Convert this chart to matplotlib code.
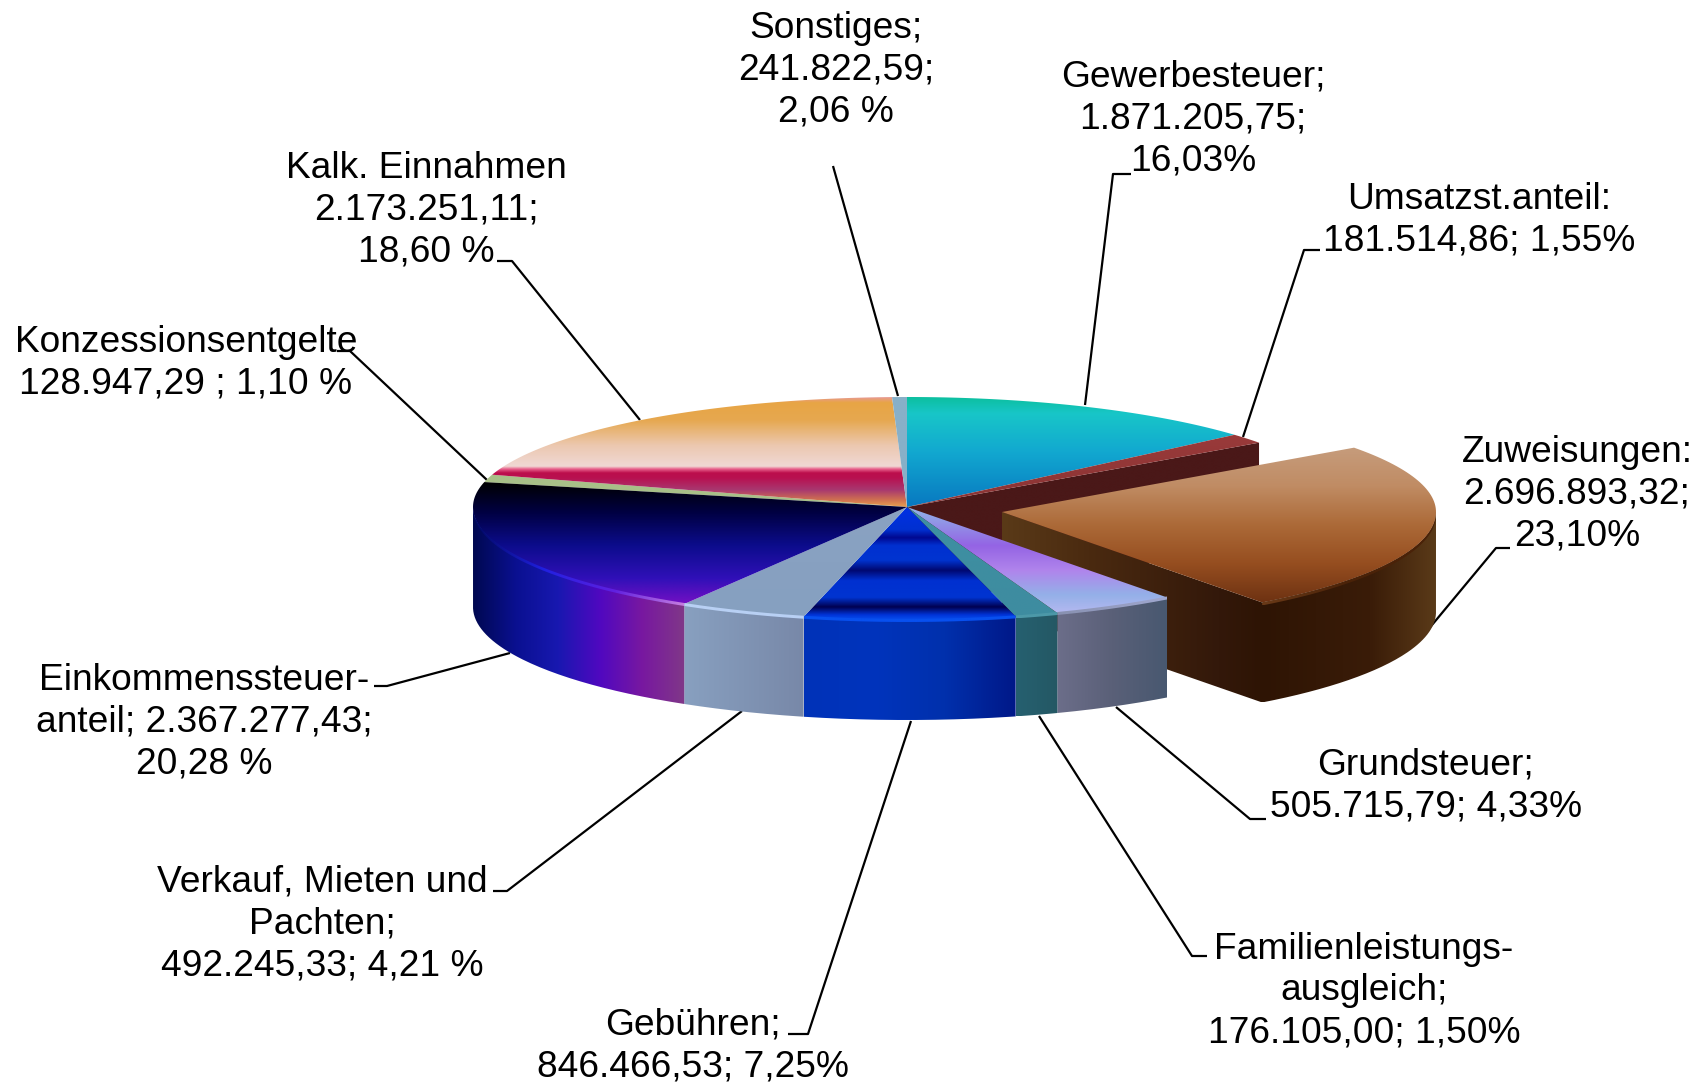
import numpy as np
import matplotlib
matplotlib.use("Agg")
import matplotlib.pyplot as plt
from matplotlib.colors import LinearSegmentedColormap
from matplotlib.patches import PathPatch
from matplotlib.path import Path

# clockwise from 12 o'clock. shares are the slice widths as drawn in the picture,
# they differ a bit from the percentages printed in the labels
names = ["Gewerbesteuer", "Umsatzst.anteil", "Zuweisungen", "Grundsteuer", "Familienleistungsausgleich",
         "Gebühren", "Verkauf", "Einkommenssteuer", "Konzessionsentgelte", "Kalk. Einnahmen", "Sonstiges"]
shares = [13.6, 1.45, 24.7, 4.6, 1.6, 7.85, 4.75, 20.05, 1.1, 19.7, 0.55]

labels = ["Gewerbesteuer;\n1.871.205,75;\n16,03%",
          "Umsatzst.anteil:\n181.514,86; 1,55%",
          "Zuweisungen:\n2.696.893,32;\n23,10%",
          "Grundsteuer;\n505.715,79; 4,33%",
          "Familienleistungs-\nausgleich;\n176.105,00; 1,50%",
          "Gebühren;\n846.466,53; 7,25%",
          "Verkauf, Mieten und\nPachten;\n492.245,33; 4,21 %",
          "Einkommenssteuer-\nanteil; 2.367.277,43;\n20,28 %",
          "Konzessionsentgelte\n128.947,29 ; 1,10 %",
          "Kalk. Einnahmen\n2.173.251,11;\n18,60 %",
          "Sonstiges;\n241.822,59;\n2,06 %"]
label_pos = [(1193, 119), (1479, 220), (1577, 494), (1426, 786), (1364, 991), (693, 1046),
             (322, 924), (204, 722), (186, 363), (426, 210), (836, 70)]
leaders = [[(1131, 174), (1113, 174), (1085, 405)],
           [(1320, 250), (1304, 250), (1243, 437)],
           [(1510, 548), (1496, 548), (1427, 631)],
           [(1266, 819), (1250, 819), (1116, 707)],
           [(1207, 956), (1192, 956), (1039, 716)],
           [(788, 1034), (808, 1034), (911, 721)],
           [(493, 891), (507, 891), (742, 711)],
           [(374, 686), (387, 686), (510, 653)],
           [(337, 351), (350, 351), (487, 480)],
           [(497, 261), (512, 261), (640, 420)],
           [(833, 166), (898, 396)]]

top_stops = [
    [(0, "#0cbf9f"), (0.15, "#18c6c8"), (0.5, "#12a8d0"), (1, "#0878c0")],
    ["#9a3a3a", "#8a3434"],
    ["#c69c7c", "#c08c64", "#ac6a38", "#964e20", "#6e3212"],
    [(0, "#90b8e8"), (0.37, "#9464e4"), (0.6, "#b084ec"), (0.83, "#94b0e8"), (1, "#b4b8f0")],
    ["#3e90a2", "#3e8ca0"],
    [(0, "#0030e0"), (0.05, "#0030e0"), (0.2, "#0030d0"), (0.27, "#000890"), (0.34, "#0030d0"),
     (0.47, "#0034d0"), (0.56, "#000870"), (0.65, "#0030d0"), (0.8, "#0034d0"), (0.885, "#000050"),
     (0.955, "#0034d8"), (1, "#0850f0")],
    ["#8aa2c2", "#86a0c0"],
    [(0, "#000000"), (0.24, "#000040"), (0.52, "#0c0c8c"), (0.79, "#3010b8"), (1, "#7410c4")],
    ["#a8c088", "#a8c088"],
    [(0, "#e89a95"), (0.05, "#e8a545"), (0.21, "#e6a850"), (0.44, "#ecc8b0"), (0.63, "#f0d8d4"),
     (0.655, "#e8608c"), (0.69, "#bc0e4c"), (0.735, "#b81050"), (0.845, "#a83870"),
     (0.935, "#d07050"), (1, "#e8a050")],
    ["#88b0c8", "#88b0c8"],
]
side_stops = {
    3: ["#6c6e8a", "#5a6078", "#485870"],
    4: ["#266070", "#245864"],
    5: ["#0032b8", "#0034bc", "#0030ac", "#001888"],
    6: ["#88a0c0", "#8094b4", "#7888a8"],
    7: ["#000850", "#0a1090", "#1818b0", "#5008c0", "#7818a0", "#803888"],
}
rim_stops = {
    3: ["#8890b0", "#a0a8d0"],
    4: ["#4c98a8", "#4c98a8"],
    5: ["#0850f0", "#0850f0"],
    6: ["#b8d0f4", "#b8d0f4"],
    7: ["#000860", "#2020e0", "#6020e0", "#c880e0"],
}
zuw_side = [(0, "#5a3a18"), (0.2, "#4a2a10"), (0.5, "#33180a"), (0.6, "#2e1404"), (0.85, "#3a1c08"), (1, "#5a3a18")]

CX, CY = 907, 507
RX = 434
RY_TOP, RY_BOTTOM = 110, 113
DEPTH = 100
EXPLODE = (95, 5)

bounds = np.radians(np.cumsum([0] + shares) / sum(shares) * 360)

fig = plt.figure(figsize=(17, 10.84), dpi=100)
ax = fig.add_axes([0, 0, 1, 1])
ax.axis("off")


def rim(t, off=(0, 0), drop=0):
    s, c = np.sin(t), np.cos(t)
    x = CX + off[0] + s * RX
    y = CY + off[1] + drop - c * np.where(c > 0, RY_TOP, RY_BOTTOM)
    return np.column_stack([x, y])


def arc(a, b, off=(0, 0), drop=0):
    return rim(np.linspace(a, b, 80), off, drop)


def grad_fill(verts, colors, vertical=True, z=2):
    verts = np.asarray(verts)
    x0, y0 = verts.min(axis=0)
    x1, y1 = verts.max(axis=0)
    cmap = LinearSegmentedColormap.from_list("g", colors, N=512)
    g = np.linspace(0, 1, 512)
    g = g[:, None] if vertical else g[None, :]
    im = ax.imshow(g, cmap=cmap, extent=(x0, x1, y1, y0), aspect="auto", zorder=z,
                   interpolation="bilinear")
    patch = PathPatch(Path(np.vstack([verts, verts[:1]])), transform=ax.transData, fc="none", ec="none")
    ax.add_patch(patch)
    im.set_clip_path(patch)


def wedge(i, off=(0, 0)):
    apex = np.array([[CX + off[0], CY + off[1]]])
    return np.vstack([apex, arc(bounds[i], bounds[i + 1], off)])


def side(a, b, off=(0, 0)):
    return np.vstack([arc(a, b, off), arc(b, a, off, DEPTH)])


for path in leaders:
    xs, ys = zip(*path)
    ax.plot(xs, ys, color="black", lw=1.6, zorder=1, solid_capstyle="butt")

# inner wall of the Umsatzst. slice, seen because Zuweisungen is pulled out
end = rim(bounds[2])[0]
wall = [(CX, CY), end, end + (0, DEPTH), (CX, CY + DEPTH)]
grad_fill(wall, ["#4a1818", "#4a1818"], z=2)

for i in [0, 1, 8, 9, 10]:
    grad_fill(wedge(i), top_stops[i], z=3)

# pulled out slice: walls first, then top
a, b = np.pi / 2, bounds[3]
walls = np.vstack([[[CX + EXPLODE[0], CY + EXPLODE[1]]], arc(b, a, EXPLODE), arc(a, b, EXPLODE, DEPTH),
                   [[CX + EXPLODE[0], CY + EXPLODE[1] + DEPTH]]])
grad_fill(walls, zuw_side, vertical=False, z=4)
grad_fill(wedge(2, EXPLODE), top_stops[2], z=5)
grad_fill(np.vstack([arc(a, b, EXPLODE), arc(b, a, EXPLODE, 3)]), ["#6a3a18", "#4a2208", "#4a2208"], vertical=False, z=6)

for i in [3, 4, 5, 6, 7]:
    lo, hi = bounds[i], min(bounds[i + 1], 1.5 * np.pi)
    grad_fill(side(lo, hi), side_stops[i], vertical=False, z=7)
for i in [3, 4, 5, 6, 7]:
    grad_fill(wedge(i), top_stops[i], z=8)
    lo, hi = bounds[i], min(bounds[i + 1], 1.5 * np.pi)
    grad_fill(np.vstack([arc(lo, hi, drop=-1), arc(hi, lo, drop=2)]), rim_stops[i], vertical=False, z=9)

for text, (x, y) in zip(labels, label_pos):
    ax.text(x, y, text, ha="center", va="center", fontsize=26.7, family="Liberation Sans",
            linespacing=1.25, color="black", zorder=10)

ax.set_xlim(0, 1700)
ax.set_ylim(1084, 0)
fig.savefig("out.png", dpi=100)
